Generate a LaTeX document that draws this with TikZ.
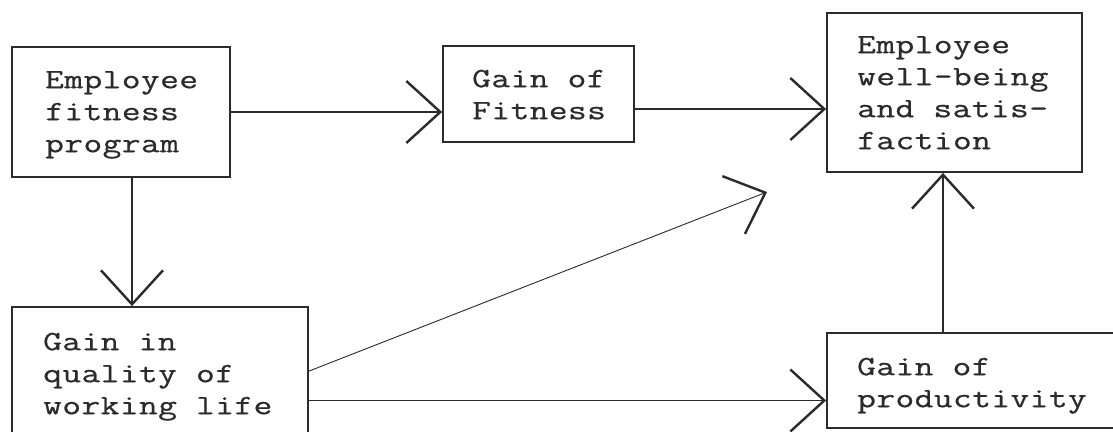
\documentclass[tikz,border=0pt]{standalone}
\usepackage{fontspec}
\setmonofont{Latin Modern Mono}[FakeStretch=1.3, LetterSpace=1.5, FakeBold=0.6]
\usetikzlibrary{arrows.meta,calc}
\definecolor{ink}{HTML}{2B2B2B}
\begin{document}
\begin{tikzpicture}[x=1pt,y=-1pt,
  box/.style={draw=ink, line width=1.8pt, rectangle, inner sep=0pt},
  label/.style={anchor=north west, inner sep=0pt, align=left, text=ink,
    font=\ttfamily\fontsize{28}{32}\selectfont},
  conn/.style={draw=ink, line width=1.4pt,
    -{Straight Barb[length=34pt,width=62pt,line width=2.4pt]}},
  ]
\useasboundingbox (0,0) rectangle (1113,431);
\fill[white] (0,0) rectangle (1113,431);
\clip (0,0) rectangle (1113,431);

% boxes
\node[box, minimum width=218pt, minimum height=130pt] (b1) at (121,112) {};
\node[box, minimum width=191pt, minimum height=96pt]  (b2) at (538.5,94) {};
\node[box, minimum width=255pt, minimum height=159pt] (b3) at (954.5,92.5) {};
\node[box, minimum width=296pt, minimum height=148pt] (b4) at (160,381) {};
\node[box, minimum width=303pt, minimum height=95pt]  (b5) at (978.5,380.5) {};

% box texts
\node[label] (t1) at (45,64)  {\rule{0pt}{24pt}Employee\\fitness\\program};
\node[label] (t2) at (472,63) {\rule{0pt}{24pt}Gain of\\Fitness};
\node[label] (t3) at (857,29) {\rule{0pt}{24pt}Employee\\well-being\\and satis-\\faction};
\node[label] (t4) at (43,326) {\rule{0pt}{24pt}Gain in\\quality of\\working life};
\node[label] (t5) at (857,351) {\rule{0pt}{24pt}Gain of\\productivity};

% connectors
\draw[conn] (b1.east) -- (b1.east -| b2.west);
\coordinate (f1) at ($(b2.east)+(0,15)$);
\draw[conn] (f1) -- (f1 -| b3.west);
\coordinate (q1) at ($(b1.south)+(11,0)$);
\draw[conn] (q1) -- (q1 |- b4.north);
\coordinate (p1) at ($(b5.west)+(0,20)$);
\draw[conn] (p1 -| b4.east) -- (p1);
\coordinate (w1) at ($(b3.south)+(-11.5,0)$);
\draw[conn] (w1 |- b5.north) -- (w1);
\coordinate (d0) at ($(b4.north east)+(0,65)$);
\coordinate (d1) at (767,192);
\draw[conn, line width=0.9pt] (d0) -- (d1);
\end{tikzpicture}
\end{document}
